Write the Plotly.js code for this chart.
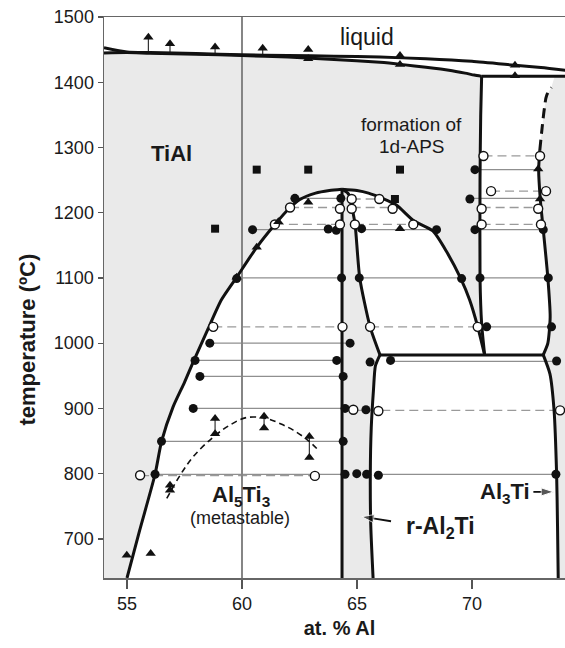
<!DOCTYPE html>
<html><head><meta charset="utf-8">
<script src="https://cdn.plot.ly/plotly-3.0.1.min.js"></script>
<style>html,body{margin:0;padding:0;overflow:hidden;background:#fff}#chart{width:575px;height:648px}</style>
</head><body><div id="chart"></div>
<script>
// ---------- phase boundaries (at.% Al, temperature °C) ----------
const liqLowX = [54, 55, 56, 58, 60, 62, 64, 66, 67, 68, 69, 69.7, 70.1, 70.42];
const liqLowY = [1445, 1445.5, 1444.5, 1443, 1441, 1438.5, 1435, 1430.5, 1427, 1423, 1418.5, 1414, 1411, 1409];
const liqUpX = [54, 55, 56, 58, 60, 62, 64, 66, 68, 70, 72, 73, 74.5];
const liqUpY = [1453, 1446.5, 1445.5, 1444, 1442, 1441, 1440, 1438.5, 1436, 1432, 1425.5, 1422.5, 1416.5];
const periX = [70.42, 74.5];
const periY = [1409, 1409];
const vertX = [70.42, 70.38, 70.35, 70.35, 70.42, 70.55];
const vertY = [1409, 1350, 1250, 1100, 1030, 982];
const domeLeftX = [55.0, 55.55, 56.22, 56.5, 57.0, 57.5, 57.9, 58.5, 59.1, 59.75, 60.64, 61.43, 62.09, 62.5, 63.2, 63.8, 64.35];
const domeLeftY = [640, 713, 799, 849, 902, 940, 973, 1020, 1066, 1100, 1147, 1182, 1208, 1220, 1230, 1234, 1236];
const domeRightX = [64.35, 65.0, 65.5, 66.1, 66.7, 67.45, 68.3, 68.9, 69.5, 69.9, 70.25, 70.55];
const domeRightY = [1236, 1234, 1230, 1222, 1212, 1188, 1172, 1140, 1100, 1066, 1025, 982];
const stripLeftX = [64.35, 64.35];
const stripLeftY = [640, 1236];
const stripRightX = [64.35, 64.6, 64.75, 64.8, 64.92, 65.12, 65.57, 66.0];
const stripRightY = [1236, 1230, 1221, 1206, 1182, 1100, 1025, 982];
const stripLowX = [66.0, 65.8, 65.72, 65.62, 65.58, 65.6, 65.7];
const stripLowY = [982, 965, 930, 870, 800, 720, 640];
const eutX = [66.0, 73.1];
const eutY = [982, 982];
const al3UpX = [73.1, 73.3, 73.4, 73.3, 73.1, 72.97, 72.9, 72.95];
const al3UpY = [982, 1000, 1040, 1100, 1174, 1221, 1266, 1296];
const al3DashX = [72.95, 73.05, 73.15, 73.25, 73.45];
const al3DashY = [1296, 1330, 1360, 1380, 1392];
const al3TopX = [73.6, 74.5, 74.5];
const al3TopY = [1409, 1409, 640];
const al3LowX = [73.1, 73.39, 73.57, 73.68, 73.72, 73.75];
const al3LowY = [982, 953, 897, 800, 720, 640];
const metaX = [56.73, 57.3, 57.88, 58.75, 59.5, 60.2, 61.07, 61.7, 62.23, 62.8, 63.25];
const metaY = [762, 797, 826, 856, 875, 886, 884.5, 876, 866.6, 853, 838.6];
const refLineX = 60;

// ---------- tie lines ----------
const tieSolidY  = [1266, 1222, 1222, 1174, 1174, 1174, 1100, 1100, 1100, 1000, 973.6, 949, 900, 849.5, 799, 1025, 972, 799];
const tieSolidX0 = [70.13, 62.3, 69.91, 60.46, 65.2, 70.13, 59.77, 65.13, 70.35, 58.6, 57.96, 58.17, 57.88, 56.5, 56.22, 70.64, 66.46, 65.93];
const tieSolidX1 = [72.88, 64.33, 72.96, 64.12, 68.46, 73.1, 64.33, 69.55, 73.32, 64.7, 64.12, 64.4, 64.48, 64.4, 64.48, 73.46, 73.68, 73.65];
const tieDashY  = [1287, 1233, 1221, 1208, 1208, 1208, 1182, 1182, 1182, 1025, 1025, 897, 797];
const tieDashX0 = [70.5, 70.83, 64.77, 62.09, 64.77, 70.42, 61.43, 64.91, 70.42, 58.75, 65.57, 64.84, 55.57];
const tieDashX1 = [72.96, 73.22, 65.97, 64.33, 66.55, 72.88, 64.33, 67.45, 73.0, 64.37, 70.25, 73.83, 63.17];

// ---------- experimental points ----------
const fcX = [62.3, 64.3, 60.46, 63.75, 64.1, 59.77, 64.33, 65.1, 58.6, 64.7, 57.96, 58.17, 57.88, 56.5, 56.22, 64.12, 64.4, 64.48, 64.4, 64.48, 64.99, 65.42, 65.93, 65.57, 66.46, 73.68, 73.65, 70.13, 69.91, 65.2, 68.46, 70.13, 73.1, 69.55, 70.35, 73.32, 70.64, 73.46, 65.39];
const fcY = [1222, 1222, 1174, 1175, 1173, 1099, 1100, 1100, 1000, 1000, 973.6, 949, 900, 849.5, 799, 973.6, 949, 900, 849.5, 799, 800, 799, 797.5, 971, 973.6, 972.6, 799, 1266, 1221, 1175.5, 1174, 1174, 1174, 1099, 1100, 1100, 1025, 1025, 898];
const ocX = [64.77, 65.97, 64.26, 64.77, 66.55, 62.09, 61.43, 64.26, 64.91, 67.45, 58.75, 64.37, 65.57, 70.25, 70.5, 72.96, 70.83, 73.22, 70.42, 72.88, 70.42, 73.0, 64.84, 65.93, 73.83, 55.57, 63.17];
const ocY = [1221, 1221, 1206, 1206, 1206, 1208, 1182, 1182, 1182, 1182, 1025, 1025, 1025, 1025, 1287, 1287, 1233, 1233, 1206, 1206, 1182, 1182, 898, 896, 897, 797.5, 796.5];
const trX = [55.93, 56.87, 58.83, 60.9, 62.88, 62.88, 66.87, 66.87, 71.87, 71.87, 62.88, 61.58, 60.64, 59.77, 66.87, 72.88, 72.96, 58.83, 58.83, 60.96, 60.96, 62.93, 62.93, 56.87, 56.87, 54.99, 56.03];
const trY = [1469, 1459, 1454, 1452, 1450, 1436, 1441, 1427, 1426, 1410, 1216, 1186, 1147, 1101, 1175.5, 1267, 1221, 884.5, 861, 888, 870, 857, 824.6, 782, 774.5, 675, 677.5];
const sqX = [58.83, 60.64, 62.88, 66.87, 66.65];
const sqY = [1175.5, 1266, 1266, 1266, 1221];
const stemX = [55.93, 56.87, 58.83, 60.9, 58.83, 60.96, 62.93, 56.87];
const stemY0 = [1446, 1445, 1443.5, 1441, 861, 870, 824.6, 774.5];
const stemY1 = [1469, 1459, 1454, 1452, 884.5, 888, 857, 782];
// label pointer arrows (tail -> head)
const arrowR2X = [66.48, 65.2];
const arrowR2Y = [727, 734];
const arrowAl3X = [72.67, 73.55];
const arrowAl3Y = [772, 772];

const xTicks = [55, 60, 65, 70];
const yTicks = [700, 800, 900, 1000, 1100, 1200, 1300, 1400, 1500];

// ---------- build traces ----------
function segs(x0, x1, y0, y1) {
  const x = [], y = [];
  for (let i = 0; i < x0.length; i++) { x.push(x0[i], x1[i], null); y.push(y0[i], y1[i], null); }
  return {x, y};
}
const rev = a => a.slice().reverse();
const GRAY = '#eaeaea';
const traces = [];
// fills
traces.push({x: [54].concat(liqLowX, vertX.slice(1), rev(domeRightX).slice(1), rev(domeLeftX).slice(1)),
             y: [640].concat(liqLowY, vertY.slice(1), rev(domeRightY).slice(1), rev(domeLeftY).slice(1)),
             fill: 'toself', fillcolor: GRAY, mode: 'lines', line: {width: 0}, hoverinfo: 'skip'});
traces.push({x: stripLeftX.concat(stripRightX.slice(1), stripLowX.slice(1)),
             y: stripLeftY.concat(stripRightY.slice(1), stripLowY.slice(1)),
             fill: 'toself', fillcolor: GRAY, mode: 'lines', line: {width: 0}, hoverinfo: 'skip'});
traces.push({x: al3UpX.concat(al3DashX.slice(1), al3TopX, rev(al3LowX)),
             y: al3UpY.concat(al3DashY.slice(1), al3TopY, rev(al3LowY)),
             fill: 'toself', fillcolor: GRAY, mode: 'lines', line: {width: 0}, hoverinfo: 'skip'});
// tie lines
const ts = segs(tieSolidX0, tieSolidX1, tieSolidY, tieSolidY);
traces.push({x: ts.x, y: ts.y, mode: 'lines', line: {color: '#8f8f8f', width: 1.3}, connectgaps: false});
const td = segs(tieDashX0, tieDashX1, tieDashY, tieDashY);
traces.push({x: td.x, y: td.y, mode: 'lines', line: {color: '#9a9a9a', width: 1.3, dash: '9px,5px'}, connectgaps: false});
// reference line at 60 at.%
traces.push({x: [refLineX, refLineX], y: [640, 1500], mode: 'lines', line: {color: '#858585', width: 2}});
// stems / error bars
const st = segs(stemX, stemX, stemY0, stemY1);
traces.push({x: st.x, y: st.y, mode: 'lines', line: {color: '#333', width: 1.2}, connectgaps: false});
// boundaries
const B = {color: '#111', width: 3};
[[liqLowX, liqLowY], [liqUpX, liqUpY], [periX, periY], [vertX, vertY], [domeLeftX, domeLeftY], [domeRightX, domeRightY],
 [stripLeftX, stripLeftY], [stripRightX, stripRightY], [stripLowX, stripLowY], [eutX, eutY], [al3UpX, al3UpY], [al3LowX, al3LowY]]
 .forEach(([x, y]) => traces.push({x, y, mode: 'lines', line: Object.assign({shape: 'spline', smoothing: 0.6}, B)}));
traces.push({x: al3DashX, y: al3DashY, mode: 'lines', line: {color: '#111', width: 3, dash: '10px,6px', shape: 'spline'}});
traces.push({x: metaX, y: metaY, mode: 'lines', line: {color: '#111', width: 1.6, dash: '6px,4px', shape: 'spline'}});
// markers
traces.push({x: fcX, y: fcY, mode: 'markers', marker: {symbol: 'circle', size: 9, color: '#111'}});
traces.push({x: ocX, y: ocY, mode: 'markers', marker: {symbol: 'circle', size: 9, color: '#fff', line: {color: '#111', width: 1.4}}});
traces.push({x: trX, y: trY, mode: 'markers', marker: {symbol: 'triangle-up', size: 9, color: '#111'}});
traces.push({x: sqX, y: sqY, mode: 'markers', marker: {symbol: 'square', size: 8, color: '#111'}});
// pointer arrows
[[arrowR2X, arrowR2Y], [arrowAl3X, arrowAl3Y]].forEach(([x, y]) => traces.push({x, y, mode: 'lines+markers',
  line: {color: '#111', width: 1.8}, marker: {symbol: 'arrow', angleref: 'previous', size: [0, 13], color: '#111'}}));

const F = 'Liberation Sans, Arial, sans-serif';
const ann = (x, y, text, size, extra) => Object.assign({x, y, xref: 'x', yref: 'y', text, showarrow: false,
  font: {family: F, size, color: '#1a1a1a'}, xanchor: 'center', yanchor: 'middle'}, extra || {});
const annotations = [
  ann(65.42, 1469, 'liquid', 23),
  ann(56.94, 1290, '<b>TiAl</b>', 22),
  ann(67.38, 1335, 'formation of', 19),
  ann(67.38, 1301, '1d-APS', 19),
  ann(59.95, 766, '<b>Al<sub>5</sub>Ti<sub>3</sub></b>', 22),
  ann(59.92, 732, '(metastable)', 18),
  ann(68.63, 717, '<b>r-Al<sub>2</sub>Ti</b>', 23),
  ann(71.43, 770, '<b>Al<sub>3</sub>Ti</b>', 22),
  {x: -0.162, y: 1005, xref: 'paper', yref: 'y', text: '<b>temperature (ºC)</b>', textangle: -90, showarrow: false,
   font: {family: F, size: 22, color: '#1a1a1a'}, xanchor: 'center', yanchor: 'middle'}
];

const layout = {
  width: 575, height: 648,
  margin: {l: 104, r: 0, t: 17, b: 70},
  paper_bgcolor: '#fff', plot_bgcolor: '#fff',
  showlegend: false,
  font: {family: F, color: '#1a1a1a'},
  xaxis: {range: [54, 74.48], tickvals: xTicks, ticks: 'outside', ticklen: 9, tickwidth: 1.3, tickcolor: '#555',
          showline: true, linecolor: '#666', linewidth: 1.5, mirror: true, showgrid: false, zeroline: false,
          tickfont: {size: 18, family: F, color: '#1a1a1a'},
          title: {text: '<b>at. % Al</b>', font: {size: 20, family: F, color: '#1a1a1a'}, standoff: 8}},
  yaxis: {range: [640, 1500], tickvals: yTicks, ticks: 'outside', ticklen: 5, tickwidth: 1.3, tickcolor: '#555',
          showline: true, linecolor: '#666', linewidth: 1.5, mirror: true, showgrid: false, zeroline: false,
          tickfont: {size: 18, family: F, color: '#1a1a1a'}},
  annotations
};
Plotly.newPlot('chart', traces, layout, {displayModeBar: false, staticPlot: true});
</script></body></html>
